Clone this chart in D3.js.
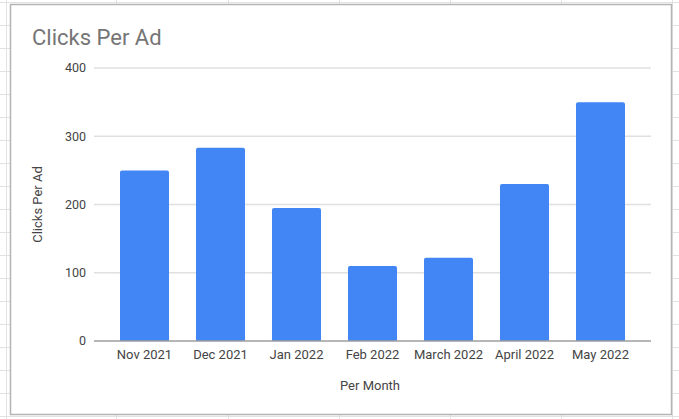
<!DOCTYPE html>
<html>
<head>
<meta charset="utf-8">
<script src="https://cdn.jsdelivr.net/npm/d3@7.9.0/dist/d3.min.js"></script>
<style>
  html, body { margin: 0; padding: 0; background: #fff; }
  svg { display: block; font-family: Roboto, Arial, sans-serif; }
</style>
</head>
<body>
<svg id="chart" width="679" height="419"></svg>
<script>
const months = ['Nov 2021', 'Dec 2021', 'Jan 2022', 'Feb 2022', 'March 2022', 'April 2022', 'May 2022'];
const clicks = [250, 283, 195, 110, 122, 230, 350];
const yTicks = [0, 100, 200, 300, 400];

const svg = d3.select('#chart');
const W = 679, H = 419;

// spreadsheet grid peeking out behind the chart
const colLines = [6, 116, 228, 339, 450, 561, 672];
const rowLines = d3.range(2, H, 23);
svg.append('g')
  .selectAll('line.col')
  .data(colLines)
  .join('line')
  .attr('x1', d => d + 0.5).attr('x2', d => d + 0.5)
  .attr('y1', 0).attr('y2', H)
  .attr('stroke', '#e2e2e2');
svg.append('g')
  .selectAll('line.row')
  .data(rowLines)
  .join('line')
  .attr('x1', 0).attr('x2', W)
  .attr('y1', d => d + 0.5).attr('y2', d => d + 0.5)
  .attr('stroke', '#e2e2e2');

// chart card
svg.append('rect')
  .attr('x', 10.5).attr('y', 4.5)
  .attr('width', 661).attr('height', 410)
  .attr('fill', '#fff')
  .attr('stroke', '#b4b4b4')
  .attr('stroke-width', 1.5);

const margin = { left: 94, right: 28, top: 68, bottom: 78 };
const x = d3.scaleBand()
  .domain(months)
  .range([margin.left, W - margin.right])
  .paddingInner(0.355)
  .paddingOuter(0.342);
const y = d3.scaleLinear()
  .domain([0, 400])
  .range([341, 68]);

// gridlines
svg.append('g')
  .selectAll('line')
  .data(yTicks.filter(d => d > 0))
  .join('line')
  .attr('x1', margin.left).attr('x2', W - margin.right)
  .attr('y1', d => y(d)).attr('y2', d => y(d))
  .attr('stroke', '#e0e0e0')
  .attr('stroke-width', 1.5);

// y labels
svg.append('g')
  .selectAll('text')
  .data(yTicks)
  .join('text')
  .attr('x', 86)
  .attr('y', d => y(d))
  .attr('dy', '0.35em')
  .attr('text-anchor', 'end')
  .attr('font-size', 12.5)
  .attr('fill', '#444')
  .text(d => d);

// bars
svg.append('g')
  .selectAll('path')
  .data(months)
  .join('path')
  .attr('d', (m, i) => {
    const x0 = x(m), w = x.bandwidth(), y0 = y(clicks[i]), y1 = y(0), r = 2;
    return `M${x0},${y1}V${y0 + r}Q${x0},${y0} ${x0 + r},${y0}H${x0 + w - r}Q${x0 + w},${y0} ${x0 + w},${y0 + r}V${y1}Z`;
  })
  .attr('fill', '#4285f4');

// baseline
svg.append('line')
  .attr('x1', margin.left).attr('x2', W - margin.right)
  .attr('y1', y(0)).attr('y2', y(0))
  .attr('stroke', '#9e9e9e')
  .attr('stroke-width', 1.5);

// x labels
svg.append('g')
  .selectAll('text')
  .data(months)
  .join('text')
  .attr('x', m => x(m) + x.bandwidth() / 2)
  .attr('y', 359)
  .attr('text-anchor', 'middle')
  .attr('font-size', 13)
  .attr('fill', '#444')
  .text(m => m);

// titles
svg.append('text')
  .attr('x', 32).attr('y', 45)
  .attr('font-size', 22)
  .attr('fill', '#757575')
  .text('Clicks Per Ad');

svg.append('text')
  .attr('x', 370)
  .attr('y', 390)
  .attr('text-anchor', 'middle')
  .attr('font-size', 13)
  .attr('fill', '#444')
  .text('Per Month');

svg.append('text')
  .attr('transform', `translate(42,${y(200)}) rotate(-90)`)
  .attr('text-anchor', 'middle')
  .attr('font-size', 13)
  .attr('fill', '#444')
  .text('Clicks Per Ad');
</script>
</body>
</html>
